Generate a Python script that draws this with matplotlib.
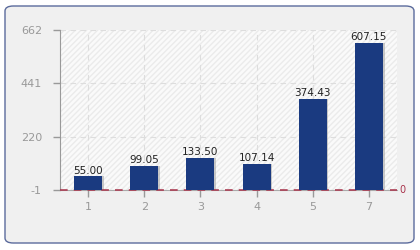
import numpy as np
import matplotlib.pyplot as plt
from matplotlib.patches import FancyBboxPatch, Rectangle

# chart data
categories = ['1', '2', '3', '4', '5', '7']
values = [55.00, 99.05, 133.50, 107.14, 374.43, 607.15]
y_ticks = [-1, 220, 441, 662]

fig = plt.figure(figsize=(4.2, 2.5), dpi=100)
fig.patch.set_facecolor('white')

# rounded outer panel, kept under the axes
panel = FancyBboxPatch((5 / 420, 7 / 250), 409 / 420, 237 / 250,
                       boxstyle='round,pad=0,rounding_size=0.02',
                       transform=fig.transFigure, facecolor='#f0f0f0',
                       edgecolor='#5b6b9c', linewidth=1.0, zorder=-10)
fig.patches.append(panel)

ax = fig.add_axes([60 / 420, 60 / 250, 337 / 420, 160 / 250])
ax.set_facecolor('#fafafa')
ax.add_patch(Rectangle((0, 0), 1, 1, transform=ax.transAxes, facecolor='none',
                       edgecolor='#ebebeb', hatch='//////', linewidth=0, zorder=0))

x = np.arange(len(categories))
# faint shadow then bars
ax.bar(x + 0.03, values, width=0.5, color='#9a9a9a', alpha=0.5, zorder=2)
ax.bar(x, values, width=0.5, color='#1a3a80', zorder=3)

for xi, v in zip(x, values):
    ax.text(xi, v + 4, f'{v:.2f}', ha='center', va='bottom', fontsize=7.5,
            color='#222222', zorder=4)

# red dashed zero line: over the gray axis line, under the bars
ax.axhline(0, color='#a8324a', linestyle=(0, (5, 4)), linewidth=1.1, zorder=2.8,
           clip_on=False)
ax.text(1.008, 0, '0', transform=ax.get_yaxis_transform(), color='#a8324a',
        fontsize=7, va='center', ha='left')

ax.set_xlim(-0.5, len(categories) - 0.5)
ax.set_ylim(-1, 662)
ax.set_yticks(y_ticks)
ax.set_yticklabels([str(t) for t in y_ticks])
ax.set_xticks(x)
ax.set_xticklabels(categories)

ax.grid(True, color='#dddddd', linestyle=(0, (5, 4)), linewidth=0.8, zorder=1)
ax.set_axisbelow(True)

for side in ['top', 'right']:
    ax.spines[side].set_visible(False)
ax.spines['left'].set_color('#999999')
ax.spines['bottom'].set_color('#aaaaaa')
ax.tick_params(axis='both', colors='#999999', labelsize=8, length=5, width=1,
               labelcolor='#999999')
ax.tick_params(axis='y', pad=8)

fig.savefig('out.png', dpi=100, facecolor=fig.get_facecolor())
